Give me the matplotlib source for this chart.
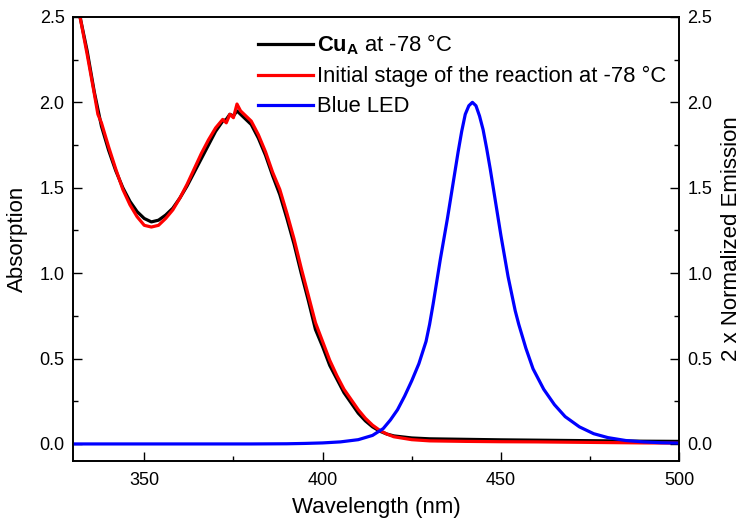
import numpy as np
import matplotlib
matplotlib.use('Agg')
import matplotlib.pyplot as plt
from matplotlib.ticker import MultipleLocator

plt.rcParams['font.family'] = ['Liberation Sans', 'DejaVu Sans']
plt.rcParams['mathtext.fontset'] = 'custom'
plt.rcParams['mathtext.rm'] = 'Liberation Sans'
plt.rcParams['mathtext.bf'] = 'Liberation Sans:bold'

# Cu_A at -78 C (black)
wl_cu = [332, 334, 336, 338, 340, 342, 344, 346, 348, 350, 352, 354, 356, 358, 360,
         362, 364, 366, 368, 370, 372, 373, 374, 375, 376, 377, 378, 380, 382, 384,
         386, 388, 390, 392, 394, 396, 398, 400, 402, 404, 406, 408, 410, 412, 414,
         416, 418, 420, 425, 430, 440, 450, 460, 470, 480, 490, 500]
abs_cu = [2.50, 2.30, 2.06, 1.86, 1.72, 1.60, 1.50, 1.42, 1.36, 1.32, 1.30, 1.31, 1.34, 1.38, 1.44,
          1.51, 1.59, 1.67, 1.75, 1.83, 1.89, 1.90, 1.93, 1.92, 1.95, 1.93, 1.91, 1.87, 1.79, 1.69,
          1.57, 1.46, 1.32, 1.17, 1.00, 0.84, 0.67, 0.57, 0.46, 0.38, 0.30, 0.24, 0.18, 0.135, 0.10,
          0.075, 0.058, 0.047, 0.035, 0.030, 0.027, 0.024, 0.022, 0.020, 0.018, 0.016, 0.015]

# initial stage of the reaction (red)
wl_init = [332, 334, 336, 337, 338, 340, 342, 344, 346, 348, 350, 352, 354, 356, 358,
           360, 362, 364, 366, 368, 370, 372, 373, 374, 375, 376, 377, 378, 380, 382,
           384, 386, 388, 390, 392, 394, 396, 398, 400, 402, 404, 406, 408, 410, 412,
           414, 416, 418, 420, 425, 430, 440, 450, 460, 470, 480, 490, 500]
abs_init = [2.50, 2.28, 2.05, 1.93, 1.88, 1.74, 1.61, 1.49, 1.40, 1.33, 1.28, 1.27, 1.28, 1.32, 1.37,
            1.44, 1.52, 1.61, 1.70, 1.78, 1.85, 1.90, 1.88, 1.93, 1.91, 1.99, 1.95, 1.93, 1.89, 1.81,
            1.71, 1.59, 1.49, 1.35, 1.20, 1.03, 0.87, 0.71, 0.60, 0.49, 0.40, 0.32, 0.26, 0.20, 0.15,
            0.11, 0.08, 0.058, 0.042, 0.025, 0.018, 0.015, 0.013, 0.012, 0.010, 0.008, 0.006, 0.005]

# blue LED emission (x2, normalized)
wl_led = [330, 380, 390, 395, 400, 405, 410, 414, 417, 419, 421, 423, 425, 427, 429,
          430, 431, 432, 433, 434, 435, 436, 437, 438, 439, 440, 441, 442, 443, 444,
          445, 446, 447, 448, 449, 450, 451, 452, 453, 454, 455, 457, 459, 462, 465,
          468, 472, 476, 480, 485, 490, 495, 500]
em_led = [0.0, 0.0, 0.001, 0.003, 0.006, 0.012, 0.025, 0.05, 0.09, 0.14, 0.20, 0.28, 0.37, 0.47, 0.60,
          0.70, 0.82, 0.95, 1.08, 1.20, 1.32, 1.45, 1.58, 1.71, 1.83, 1.93, 1.98, 2.00, 1.98, 1.92,
          1.84, 1.73, 1.61, 1.48, 1.35, 1.22, 1.10, 0.98, 0.88, 0.78, 0.70, 0.56, 0.44, 0.32, 0.23,
          0.16, 0.10, 0.06, 0.037, 0.02, 0.012, 0.007, 0.005]

fig = plt.figure(figsize=(7.44, 5.29), dpi=100)
ax = fig.add_axes([0.098, 0.1285, 0.815, 0.8395])
ax2 = ax.twinx()

l1, = ax.plot(wl_cu, abs_cu, color='black', lw=2.3, label=r'$\mathbf{Cu_A}$ at -78 °C')
l2, = ax.plot(wl_init, abs_init, color='#ff0000', lw=2.3, label='Initial stage of the reaction at -78 °C')
l3, = ax2.plot(wl_led, em_led, color='#0000ff', lw=2.3, label='Blue LED')

for a in (ax, ax2):
    a.set_xlim(330, 500)
    a.set_ylim(-0.1, 2.5)
    a.yaxis.set_major_locator(MultipleLocator(0.5))
    a.yaxis.set_minor_locator(MultipleLocator(0.25))
    a.yaxis.set_major_formatter(matplotlib.ticker.FormatStrFormatter('%.1f'))
    a.tick_params(which='major', direction='in', length=6.5, width=1, labelsize=13)
    a.tick_params(which='minor', direction='in', length=3.5, width=1)
    for s in a.spines.values():
        s.set_linewidth(1.2)

ax.xaxis.set_major_locator(MultipleLocator(50))
ax.xaxis.set_minor_locator(MultipleLocator(25))
ax.tick_params(axis='x', which='both', top=False, pad=8)
ax.tick_params(axis='y', pad=6)
ax2.tick_params(axis='y', pad=6)

ax.set_xlabel('Wavelength (nm)', fontsize=16, labelpad=6)
ax.set_ylabel('Absorption', fontsize=16, labelpad=8)
ax2.set_ylabel('2 x Normalized Emission', fontsize=16, labelpad=6)

ax2.legend(handles=[l1, l2, l3], loc='upper left', bbox_to_anchor=(0.28, 1.0),
           frameon=False, fontsize=15.8, handlelength=2.5, handletextpad=0.2,
           labelspacing=0.42, borderaxespad=0.3)

fig.savefig('out.png', dpi=100)
